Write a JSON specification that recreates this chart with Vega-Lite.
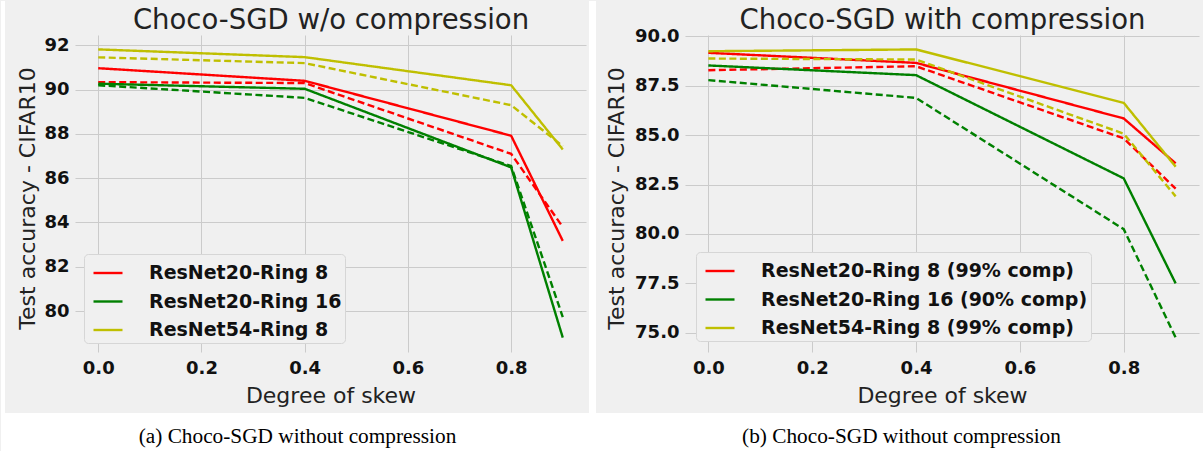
{
  "$schema": "https://vega.github.io/schema/vega-lite/v6.json",
  "background": "#f0f0f0",
  "padding": 0,
  "bounds": "flush",
  "spacing": 99,
  "config": {
    "font": "DejaVu Sans",
    "view": {"stroke": null, "fill": "#f0f0f0"},
    "axis": {
      "domain": false, "ticks": false, "tickSize": 0,
      "gridColor": "#cbcbcb", "gridWidth": 1,
      "labelFont": "DejaVu Sans", "labelFontSize": 18, "labelFontWeight": "bold", "labelColor": "#111111",
      "titleFont": "DejaVu Sans", "titleFontSize": 22, "titleFontWeight": "normal", "titleColor": "#222222"
    },
    "legend": {
      "orient": "bottom-left", "offset": 9,
      "symbolType": "stroke", "symbolSize": 841, "symbolStrokeWidth": 2.4, "symbolOffset": 5,
      "labelFont": "DejaVu Sans", "labelFontSize": 19, "labelFontWeight": "bold", "labelColor": "#111111",
      "labelOffset": 25, "labelLimit": 500, "rowPadding": 2.5, "padding": 3,
      "fillColor": "#f0f0f0", "strokeColor": "#d6d6d6", "cornerRadius": 4
    }
  },
  "resolve": {
    "scale": {"x": "independent", "y": "independent", "color": "independent", "strokeDash": "independent"},
    "legend": {"color": "independent"}
  },
  "hconcat": [
    {
      "width": 511,
      "height": 317,
      "resolve": {"axis": {"x": "independent", "y": "independent"}},
      "layer": [
        {
          "data": {"values": [{}]},
          "mark": {"type": "rect", "color": "#ffffff"},
          "encoding": {
            "x": {"datum": -0.1884, "type": "quantitative", "scale": {"domain": [-0.045, 0.945], "nice": false, "zero": false},
                  "axis": {"orient": "top", "labels": false, "grid": false, "title": "Choco-SGD w/o compression",
                           "titleFontSize": 27.5, "titleBaseline": "alphabetic", "titleY": -7, "titleColor": "#222222"}},
            "x2": {"datum": -0.1806},
            "y": {"datum": 94.006, "type": "quantitative", "scale": {"domain": [78.15, 92.47], "nice": false, "zero": false}, "axis": null},
            "y2": {"datum": 73.633}
          }
        },
        {
          "data": {"values": [{}]},
          "mark": {"type": "rect", "color": "#ffffff"},
          "encoding": {
            "x": {"datum": -0.1884, "type": "quantitative", "scale": {"domain": [-0.045, 0.945], "nice": false, "zero": false},
                  "axis": {"orient": "bottom", "labels": false, "grid": false, "title": "(a) Choco-SGD without compression",
                           "titleFont": "Liberation Serif", "titleFontSize": 21.3, "titleColor": "#000000",
                           "titleBaseline": "alphabetic", "titleX": 222, "titleY": 90, "zindex": 1}},
            "x2": {"datum": 0.966},
            "y": {"datum": 75.394, "type": "quantitative", "scale": {"domain": [78.15, 92.47], "nice": false, "zero": false}, "axis": null},
            "y2": {"datum": 73.633}
          }
        },
        {
          "data": {
            "values": [
              {"model": "ResNet20-Ring 8", "run": "A", "skew": 0.0, "accuracy": 90.97},
              {"model": "ResNet20-Ring 8", "run": "A", "skew": 0.4, "accuracy": 90.40},
              {"model": "ResNet20-Ring 8", "run": "A", "skew": 0.8, "accuracy": 87.92},
              {"model": "ResNet20-Ring 8", "run": "A", "skew": 0.9, "accuracy": 83.17},
              {"model": "ResNet20-Ring 8", "run": "B", "skew": 0.0, "accuracy": 90.34},
              {"model": "ResNet20-Ring 8", "run": "B", "skew": 0.4, "accuracy": 90.30},
              {"model": "ResNet20-Ring 8", "run": "B", "skew": 0.8, "accuracy": 87.10},
              {"model": "ResNet20-Ring 8", "run": "B", "skew": 0.9, "accuracy": 83.80},
              {"model": "ResNet20-Ring 16", "run": "A", "skew": 0.0, "accuracy": 90.27},
              {"model": "ResNet20-Ring 16", "run": "A", "skew": 0.4, "accuracy": 90.04},
              {"model": "ResNet20-Ring 16", "run": "A", "skew": 0.8, "accuracy": 86.49},
              {"model": "ResNet20-Ring 16", "run": "A", "skew": 0.9, "accuracy": 78.80},
              {"model": "ResNet20-Ring 16", "run": "B", "skew": 0.0, "accuracy": 90.20},
              {"model": "ResNet20-Ring 16", "run": "B", "skew": 0.4, "accuracy": 89.63},
              {"model": "ResNet20-Ring 16", "run": "B", "skew": 0.8, "accuracy": 86.55},
              {"model": "ResNet20-Ring 16", "run": "B", "skew": 0.9, "accuracy": 79.73},
              {"model": "ResNet54-Ring 8", "run": "A", "skew": 0.0, "accuracy": 91.82},
              {"model": "ResNet54-Ring 8", "run": "A", "skew": 0.4, "accuracy": 91.47},
              {"model": "ResNet54-Ring 8", "run": "A", "skew": 0.8, "accuracy": 90.20},
              {"model": "ResNet54-Ring 8", "run": "A", "skew": 0.9, "accuracy": 87.30},
              {"model": "ResNet54-Ring 8", "run": "B", "skew": 0.0, "accuracy": 91.46},
              {"model": "ResNet54-Ring 8", "run": "B", "skew": 0.4, "accuracy": 91.20},
              {"model": "ResNet54-Ring 8", "run": "B", "skew": 0.8, "accuracy": 89.30},
              {"model": "ResNet54-Ring 8", "run": "B", "skew": 0.9, "accuracy": 87.45}
            ]
          },
          "mark": {"type": "line", "strokeWidth": 2.4, "strokeCap": "butt"},
          "encoding": {
            "x": {"field": "skew", "type": "quantitative", "scale": {"domain": [-0.045, 0.945], "nice": false, "zero": false},
                  "axis": {"orient": "bottom", "values": [0, 0.2, 0.4, 0.6, 0.8], "format": ".1f", "labelPadding": 7, "grid": true,
                           "title": "Degree of skew", "titleBaseline": "alphabetic", "titleY": 50}},
            "y": {"field": "accuracy", "type": "quantitative", "scale": {"domain": [78.15, 92.47], "nice": false, "zero": false},
                  "axis": {"orient": "left", "values": [80, 82, 84, 86, 88, 90, 92], "format": "d", "labelPadding": 6, "grid": true,
                           "title": "Test accuracy - CIFAR10", "titleBaseline": "alphabetic", "titleX": -41, "titleY": 163}},
            "color": {"field": "model", "type": "nominal",
                      "scale": {"domain": ["ResNet20-Ring 8", "ResNet20-Ring 16", "ResNet54-Ring 8"], "range": ["#ff0000", "#008000", "#bfbf00"]},
                      "legend": {"title": null, "orient": "bottom-left", "offset": 9}},
            "strokeDash": {"field": "run", "type": "nominal", "scale": {"domain": ["A", "B"], "range": [[1, 0], [7, 3.5]]}, "legend": null}
          }
        }
      ]
    },
    {
      "width": 514,
      "height": 317,
      "resolve": {"axis": {"x": "independent", "y": "independent"}},
      "layer": [
        {
          "data": {"values": [{}]},
          "mark": {"type": "rect", "color": "#ffffff"},
          "encoding": {
            "x": {"datum": -0.2299, "type": "quantitative", "scale": {"domain": [-0.045, 0.945], "nice": false, "zero": false},
                  "axis": {"orient": "top", "labels": false, "grid": false, "title": "Choco-SGD with compression",
                           "titleFontSize": 27.5, "titleBaseline": "alphabetic", "titleY": -7, "titleColor": "#222222"}},
            "x2": {"datum": -0.2164},
            "y": {"datum": 91.779, "type": "quantitative", "scale": {"domain": [74.03, 90.06], "nice": false, "zero": false}, "axis": null},
            "y2": {"datum": 70.945}
          }
        },
        {
          "data": {"values": [{}]},
          "mark": {"type": "rect", "color": "#ffffff"},
          "encoding": {
            "x": {"datum": -0.2185, "type": "quantitative", "scale": {"domain": [-0.045, 0.945], "nice": false, "zero": false},
                  "axis": {"orient": "bottom", "labels": false, "grid": false, "title": "(b) Choco-SGD without compression",
                           "titleFont": "Liberation Serif", "titleFontSize": 21.3, "titleColor": "#000000",
                           "titleBaseline": "alphabetic", "titleX": 216, "titleY": 90, "zindex": 1}},
            "x2": {"datum": 0.9546},
            "y": {"datum": 70.945, "type": "quantitative", "scale": {"domain": [74.03, 90.06], "nice": false, "zero": false}, "axis": null},
            "y2": {"datum": 68.973}
          }
        },
        {
          "data": {
            "values": [
              {"model": "ResNet20-Ring 8 (99% comp)", "run": "A", "skew": 0.0, "accuracy": 89.16},
              {"model": "ResNet20-Ring 8 (99% comp)", "run": "A", "skew": 0.4, "accuracy": 88.65},
              {"model": "ResNet20-Ring 8 (99% comp)", "run": "A", "skew": 0.8, "accuracy": 85.84},
              {"model": "ResNet20-Ring 8 (99% comp)", "run": "A", "skew": 0.9, "accuracy": 83.57},
              {"model": "ResNet20-Ring 8 (99% comp)", "run": "B", "skew": 0.0, "accuracy": 88.28},
              {"model": "ResNet20-Ring 8 (99% comp)", "run": "B", "skew": 0.4, "accuracy": 88.48},
              {"model": "ResNet20-Ring 8 (99% comp)", "run": "B", "skew": 0.8, "accuracy": 84.83},
              {"model": "ResNet20-Ring 8 (99% comp)", "run": "B", "skew": 0.9, "accuracy": 82.29},
              {"model": "ResNet20-Ring 16 (90% comp)", "run": "A", "skew": 0.0, "accuracy": 88.52},
              {"model": "ResNet20-Ring 16 (90% comp)", "run": "A", "skew": 0.4, "accuracy": 88.03},
              {"model": "ResNet20-Ring 16 (90% comp)", "run": "A", "skew": 0.8, "accuracy": 82.81},
              {"model": "ResNet20-Ring 16 (90% comp)", "run": "A", "skew": 0.9, "accuracy": 77.50},
              {"model": "ResNet20-Ring 16 (90% comp)", "run": "B", "skew": 0.0, "accuracy": 87.78},
              {"model": "ResNet20-Ring 16 (90% comp)", "run": "B", "skew": 0.4, "accuracy": 86.88},
              {"model": "ResNet20-Ring 16 (90% comp)", "run": "B", "skew": 0.8, "accuracy": 80.24},
              {"model": "ResNet20-Ring 16 (90% comp)", "run": "B", "skew": 0.9, "accuracy": 74.76},
              {"model": "ResNet54-Ring 8 (99% comp)", "run": "A", "skew": 0.0, "accuracy": 89.24},
              {"model": "ResNet54-Ring 8 (99% comp)", "run": "A", "skew": 0.4, "accuracy": 89.33},
              {"model": "ResNet54-Ring 8 (99% comp)", "run": "A", "skew": 0.8, "accuracy": 86.63},
              {"model": "ResNet54-Ring 8 (99% comp)", "run": "A", "skew": 0.9, "accuracy": 83.40},
              {"model": "ResNet54-Ring 8 (99% comp)", "run": "B", "skew": 0.0, "accuracy": 88.87},
              {"model": "ResNet54-Ring 8 (99% comp)", "run": "B", "skew": 0.4, "accuracy": 88.82},
              {"model": "ResNet54-Ring 8 (99% comp)", "run": "B", "skew": 0.8, "accuracy": 85.07},
              {"model": "ResNet54-Ring 8 (99% comp)", "run": "B", "skew": 0.9, "accuracy": 81.90}
            ]
          },
          "mark": {"type": "line", "strokeWidth": 2.4, "strokeCap": "butt"},
          "encoding": {
            "x": {"field": "skew", "type": "quantitative", "scale": {"domain": [-0.045, 0.945], "nice": false, "zero": false},
                  "axis": {"orient": "bottom", "values": [0, 0.2, 0.4, 0.6, 0.8], "format": ".1f", "labelPadding": 7, "grid": true,
                           "title": "Degree of skew", "titleBaseline": "alphabetic", "titleY": 50}},
            "y": {"field": "accuracy", "type": "quantitative", "scale": {"domain": [74.03, 90.06], "nice": false, "zero": false},
                  "axis": {"orient": "left", "values": [75, 77.5, 80, 82.5, 85, 87.5, 90], "format": ".1f", "labelPadding": 6, "grid": true,
                           "title": "Test accuracy - CIFAR10", "titleBaseline": "alphabetic", "titleX": -62, "titleY": 163}},
            "color": {"field": "model", "type": "nominal",
                      "scale": {"domain": ["ResNet20-Ring 8 (99% comp)", "ResNet20-Ring 16 (90% comp)", "ResNet54-Ring 8 (99% comp)"], "range": ["#ff0000", "#008000", "#bfbf00"]},
                      "legend": {"title": null, "orient": "bottom-left", "offset": 11}},
            "strokeDash": {"field": "run", "type": "nominal", "scale": {"domain": ["A", "B"], "range": [[1, 0], [7, 3.5]]}, "legend": null}
          }
        }
      ]
    }
  ]
}
